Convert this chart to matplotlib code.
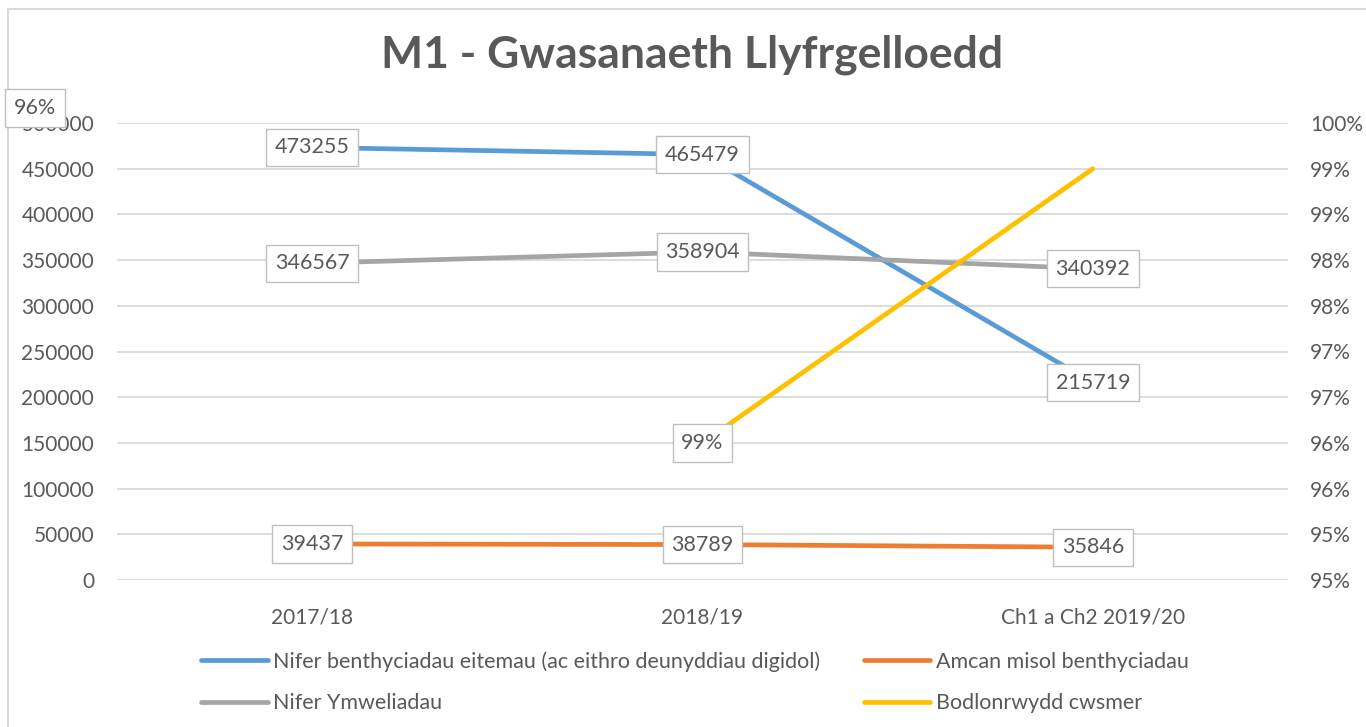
import numpy as np
import matplotlib
matplotlib.use('Agg')
import matplotlib.pyplot as plt
from matplotlib.patches import Rectangle
from matplotlib.ticker import FuncFormatter, MultipleLocator

plt.rcParams['font.family'] = ['Lato', 'DejaVu Sans']

# data
categories = ['2017/18', '2018/19', 'Ch1 a Ch2 2019/20']
benthyciadau = [473255, 465479, 215719]
amcan_misol = [39437, 38789, 35846]
ymweliadau = [346567, 358904, 340392]
bodlonrwydd = [np.nan, 0.965, 0.995]
bodlonrwydd_labels = ['', '99%', '96%']

series_names = [
    'Nifer benthyciadau eitemau (ac eithro deunyddiau digidol)',
    'Amcan misol benthyciadau',
    'Nifer Ymweliadau',
    'Bodlonrwydd cwsmer',
]
colors = ['#5B9BD5', '#ED7D31', '#A5A5A5', '#FFC000']
text_col = '#595959'
grid_col = '#D9D9D9'
fs = 15.5

W, H = 1366, 727
fig = plt.figure(figsize=(W / 100, H / 100), dpi=100)

# chart border
fig.patches.append(Rectangle((8 / W, -0.1), 2, 1 - 9 / H + 0.1, transform=fig.transFigure,
                             fill=False, edgecolor=grid_col, linewidth=1.5))

ax = fig.add_axes([117 / W, 1 - 580 / H, (1288 - 117) / W, (580 - 123) / H])
ax2 = ax.twinx()

x = np.arange(len(categories))
lw = 3.4
l1, = ax.plot(x, benthyciadau, color=colors[0], lw=lw, solid_capstyle='round', zorder=3)
l2, = ax.plot(x, amcan_misol, color=colors[1], lw=lw, solid_capstyle='round', zorder=3)
l3, = ax.plot(x, ymweliadau, color=colors[2], lw=lw, solid_capstyle='round', zorder=3)
l4, = ax2.plot(x, bodlonrwydd, color=colors[3], lw=lw, solid_capstyle='round', zorder=3)

ax.set_xlim(-0.5, len(categories) - 0.5)
ax.set_ylim(0, 500000)
ax.yaxis.set_major_locator(MultipleLocator(50000))
ax2.set_ylim(0.95, 1.0)
ax2.yaxis.set_major_locator(MultipleLocator(0.005))
ax2.yaxis.set_major_formatter(FuncFormatter(lambda v, p: '%d%%' % int(np.floor(v * 100 + 1e-6))))

ax.grid(axis='y', color=grid_col, lw=1.3)
ax.set_axisbelow(True)
ax.set_xticks(x)
ax.set_xticklabels(categories)
for a in (ax, ax2):
    for s in a.spines.values():
        s.set_visible(False)
    a.tick_params(length=0, labelsize=15, labelcolor=text_col)
ax.tick_params(axis='y', pad=16.5)
ax2.tick_params(axis='y', pad=16)
ax.tick_params(axis='x', pad=20)

box = dict(boxstyle='square,pad=0.4', facecolor='white', edgecolor='#BFBFBF', linewidth=1)
for vals in (benthyciadau, amcan_misol, ymweliadau):
    for xi, v in zip(x, vals):
        ax.text(xi, v, str(v), ha='center', va='center', fontsize=fs, color=text_col,
                bbox=box, zorder=5)
# yellow series labels (as shown in the chart)
ax2.text(x[1], bodlonrwydd[1], bodlonrwydd_labels[1], ha='center', va='center', fontsize=fs,
         color=text_col, bbox=box, zorder=5)
fig.text(35 / W, 1 - 108 / H, bodlonrwydd_labels[2], ha='center', va='center', fontsize=fs,
         color=text_col, bbox=box)

fig.text(692 / W, 1 - 55 / H, 'M1 - Gwasanaeth Llyfrgelloedd', ha='center', va='center',
         fontsize=32, fontweight='bold', color=text_col)

# legend fills column by column: order so rows read blue/orange, gray/yellow
handles = [l1, l3, l2, l4]
labels = [series_names[0], series_names[2], series_names[1], series_names[3]]
fig.legend(handles, labels, ncol=2, loc='center', bbox_to_anchor=(695 / W, 1 - 682 / H),
           frameon=False, fontsize=fs, labelcolor=text_col, handlelength=3.1,
           handletextpad=0.25, columnspacing=2.0, labelspacing=1.0)

fig.savefig('out.png', dpi=100)
